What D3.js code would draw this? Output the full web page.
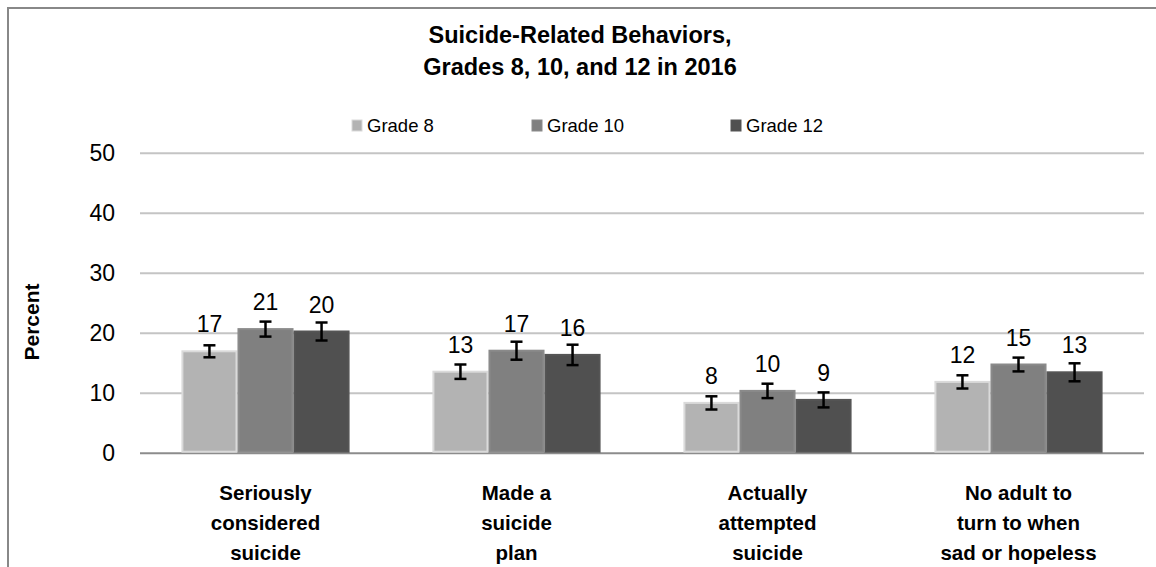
<!DOCTYPE html>
<html>
<head>
<meta charset="utf-8">
<script src="https://cdn.jsdelivr.net/npm/d3@7"></script>
<style>
  html, body { margin: 0; padding: 0; background: #fff; }
  svg { display: block; }
  text { font-family: "Liberation Sans", Arial, sans-serif; fill: #000; }
</style>
</head>
<body>
<svg id="chart" width="1156" height="567"></svg>
<script>
// ---- data ----
const categories = [
  ["Seriously", "considered", "suicide"],
  ["Made a", "suicide", "plan"],
  ["Actually", "attempted", "suicide"],
  ["No adult to", "turn to when", "sad or hopeless"]
];
const seriesNames = ["Grade 8", "Grade 10", "Grade 12"];
const grade8  = [16.9, 13.5, 8.3, 11.8];
const grade10 = [20.6, 17.0, 10.3, 14.7];
const grade12 = [20.2, 16.3, 8.8, 13.4];
const err8  = [1.0, 1.2, 1.1, 1.1];
const err10 = [1.25, 1.5, 1.2, 1.15];
const err12 = [1.5, 1.7, 1.25, 1.5];
const labels8  = ["17", "13", "8", "12"];
const labels10 = ["21", "17", "10", "15"];
const labels12 = ["20", "16", "9", "13"];
const yTicks = [0, 10, 20, 30, 40, 50];
const titleLines = ["Suicide-Related Behaviors,", "Grades 8, 10, and 12 in 2016"];
const yTitle = "Percent";

// ---- layout / style ----
const fills = ["#b3b3b3", "#808080", "#505050"];
const strokes = ["#dadada", "#8a8a8a", "#555555"];
const svg = d3.select("#chart");
const plot = { left: 140, right: 1144, top: 152.7, bottom: 452.7 };

const series = [
  { name: seriesNames[0], vals: grade8, errs: err8, labs: labels8 },
  { name: seriesNames[1], vals: grade10, errs: err10, labs: labels10 },
  { name: seriesNames[2], vals: grade12, errs: err12, labs: labels12 }
];

const x0 = d3.scaleBand().domain(d3.range(categories.length))
  .range([plot.left, plot.right]).paddingInner(0.33).paddingOuter(0.165);
const x1 = d3.scaleBand().domain(d3.range(series.length))
  .range([0, x0.bandwidth()]).padding(0);
const y = d3.scaleLinear().domain([0, 50]).range([plot.bottom, plot.top]);

// outer border
svg.append("rect").attr("x", 8).attr("y", 8).attr("width", 1170).attr("height", 580)
  .attr("fill", "none").attr("stroke", "#888").attr("stroke-width", 2);

// title
svg.append("g").selectAll("text").data(titleLines).join("text")
  .attr("x", 580).attr("y", (d, i) => 43 + i * 32)
  .attr("text-anchor", "middle").attr("font-weight", "bold").attr("font-size", 23.5)
  .text(d => d);

// legend
const legendX = [352, 532, 731];
const lg = svg.append("g");
series.forEach((s, i) => {
  lg.append("rect").attr("x", legendX[i]).attr("y", 120).attr("width", 10).attr("height", 11)
    .attr("fill", fills[i]).attr("stroke", strokes[i]).attr("stroke-width", 1);
  lg.append("text").attr("x", legendX[i] + 15).attr("y", 131.5).attr("font-size", 18.5).text(s.name);
});

// gridlines
const yAxis = d3.axisLeft(y).tickValues(yTicks).tickSize(0).tickPadding(0).tickFormat(d3.format("d"));
const ga = svg.append("g").attr("transform", `translate(${plot.left},0)`).call(yAxis);
ga.select(".domain").remove();
ga.selectAll(".tick text").attr("x", -25).attr("dy", "0.36em")
  .attr("font-size", 23).attr("font-family", "Liberation Sans, Arial, sans-serif").attr("fill", "#000");
ga.selectAll(".tick").append("line")
  .attr("x1", 0).attr("x2", plot.right - plot.left)
  .attr("stroke", d => d === 0 ? "#8c8c8c" : "#c4c4c4").attr("stroke-width", 2);

// bars
const groups = svg.append("g").selectAll("g").data(categories).join("g")
  .attr("transform", (d, i) => `translate(${x0(i)},0)`);

groups.each(function(cat, ci) {
  const g = d3.select(this);
  series.forEach((s, si) => {
    const v = s.vals[ci], e = s.errs[ci];
    const bx = x1(si), bw = x1.bandwidth();
    g.append("rect").attr("x", bx + 1).attr("y", y(v)).attr("width", bw - 2)
      .attr("height", y(0) - y(v) - 1)
      .attr("fill", fills[si]).attr("stroke", strokes[si]).attr("stroke-width", 2);
    const cx = bx + bw / 2;
    g.append("line").attr("x1", cx).attr("x2", cx).attr("y1", y(v + e)).attr("y2", y(v - e))
      .attr("stroke", "#000").attr("stroke-width", 2.5);
    [v + e, v - e].forEach(yy => {
      g.append("line").attr("x1", cx - 6).attr("x2", cx + 6).attr("y1", y(yy)).attr("y2", y(yy))
        .attr("stroke", "#000").attr("stroke-width", 2.5);
    });
    g.append("text").attr("x", cx).attr("y", y(v) - 19).attr("text-anchor", "middle")
      .attr("font-size", 23).text(s.labs[ci]);
  });
  // category label
  g.append("g").selectAll("text").data(cat).join("text")
    .attr("x", x0.bandwidth() / 2).attr("y", (d, i) => 500 + i * 30)
    .attr("text-anchor", "middle").attr("font-weight", "bold").attr("font-size", 20.5)
    .text(d => d);
});

// y title
svg.append("text").attr("transform", "translate(39,322) rotate(-90)")
  .attr("text-anchor", "middle").attr("font-weight", "bold").attr("font-size", 21)
  .text(yTitle);
</script>
</body>
</html>
